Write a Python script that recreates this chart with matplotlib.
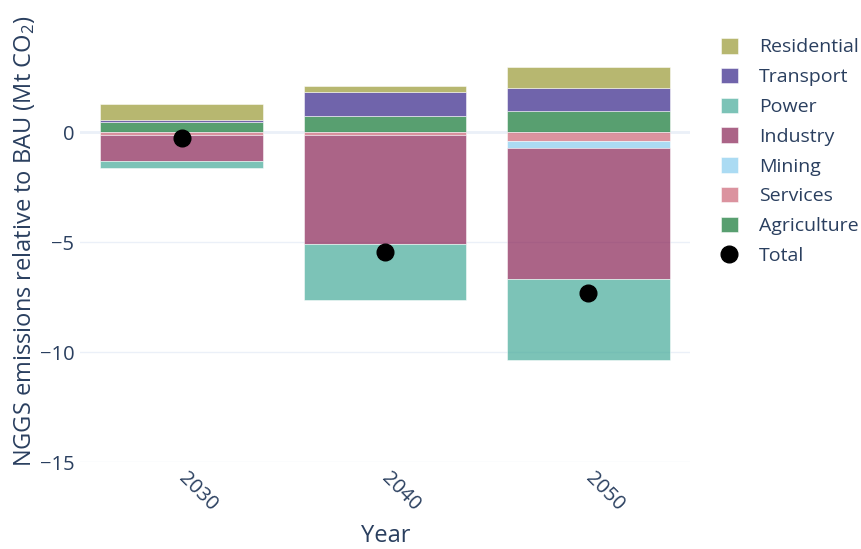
import matplotlib
matplotlib.use("Agg")
import matplotlib.pyplot as plt
from matplotlib.patches import Patch
from matplotlib.lines import Line2D
import numpy as np

plt.rcParams["font.family"] = ["Open Sans", "DejaVu Sans"]
plt.rcParams["mathtext.fontset"] = "custom"
plt.rcParams["mathtext.rm"] = "Open Sans"
plt.rcParams["mathtext.it"] = "Open Sans"
plt.rcParams["mathtext.default"] = "regular"

TEXT = "#2a3f5f"
GRID = "#ebf0f8"

years = ["2030", "2040", "2050"]

# sector changes vs BAU, Mt CO2 (trace order = stacking order)
agriculture = [0.45, 0.71, 0.95]
services = [-0.12, -0.12, -0.40]
mining = [0.0, 0.0, -0.33]
industry = [-1.18, -4.98, -5.95]
power = [-0.33, -2.55, -3.70]
transport = [0.10, 1.09, 1.03]
residential = [0.70, 0.30, 0.97]
total = [-0.29, -5.44, -7.33]

sectors = [
    ("Agriculture", agriculture, "#117733"),
    ("Services", services, "#cc6677"),
    ("Mining", mining, "#88ccee"),
    ("Industry", industry, "#882255"),
    ("Power", power, "#44aa99"),
    ("Transport", transport, "#332288"),
    ("Residential", residential, "#999933"),
]

fig = plt.figure(figsize=(8.62, 5.49), dpi=100)
ax = fig.add_axes([80 / 862, 1 - 462 / 549, 610 / 862, 440 / 549])

x = np.arange(len(years))
pos_base = np.zeros(len(years))
neg_base = np.zeros(len(years))

# relative stacking: positives go up from zero, negatives go down
for name, vals, col in sectors:
    v = np.array(vals)
    base = np.where(v >= 0, pos_base, neg_base)
    ax.bar(x, v, width=0.8, bottom=base, color=col, alpha=0.7,
           edgecolor="white", linewidth=0.5, zorder=2)
    pos_base += np.clip(v, 0, None)
    neg_base += np.clip(v, None, 0)

ax.plot(x, total, "o", color="black", markersize=12, zorder=4)

ax.set_xlim(-0.5, 2.5)
ax.set_ylim(-15, 5)
ax.set_yticks([0, -5, -10, -15])
ax.set_yticklabels(["0", "\u22125", "\u221210", "\u221215"])
ax.set_xticks(x)
ax.set_xticklabels(years, rotation=-45, ha="left", va="center",
                   rotation_mode="anchor")

ax.grid(axis="y", color=GRID, linewidth=1, zorder=0)
ax.axhline(0, color=GRID, linewidth=2, zorder=1)
ax.set_axisbelow(True)
for s in ax.spines.values():
    s.set_visible(False)
ax.tick_params(axis="both", length=0, labelsize=14.5, colors=TEXT)
ax.tick_params(axis="y", pad=4)
ax.tick_params(axis="x", pad=10)

fig.text(386 / 862, 1 - 536 / 549, "Year", ha="center", va="center",
         fontsize=17, color=TEXT)
fig.text(24 / 862, 1 - 241.5 / 549,
         "NGGS emissions relative to BAU (Mt CO$_2$)",
         rotation=90, ha="center", va="center", fontsize=17, color=TEXT)

handles = [Patch(facecolor=col, alpha=0.7, edgecolor="white", linewidth=0.5)
           for _, _, col in sectors[::-1]]
labels = [name for name, _, _ in sectors[::-1]]
handles.append(Line2D([], [], marker="o", color="black", linestyle="none",
                      markersize=12))
labels.append("Total")

leg = ax.legend(handles, labels, loc="upper left",
                bbox_to_anchor=(721 / 862, 1 - 38 / 549),
                bbox_transform=fig.transFigure, frameon=False,
                fontsize=14, handlelength=0.85, handleheight=0.85,
                handletextpad=1.1, labelspacing=0.58, borderpad=0,
                borderaxespad=0)
for t in leg.get_texts():
    t.set_color(TEXT)

fig.savefig("out.png", dpi=100)
